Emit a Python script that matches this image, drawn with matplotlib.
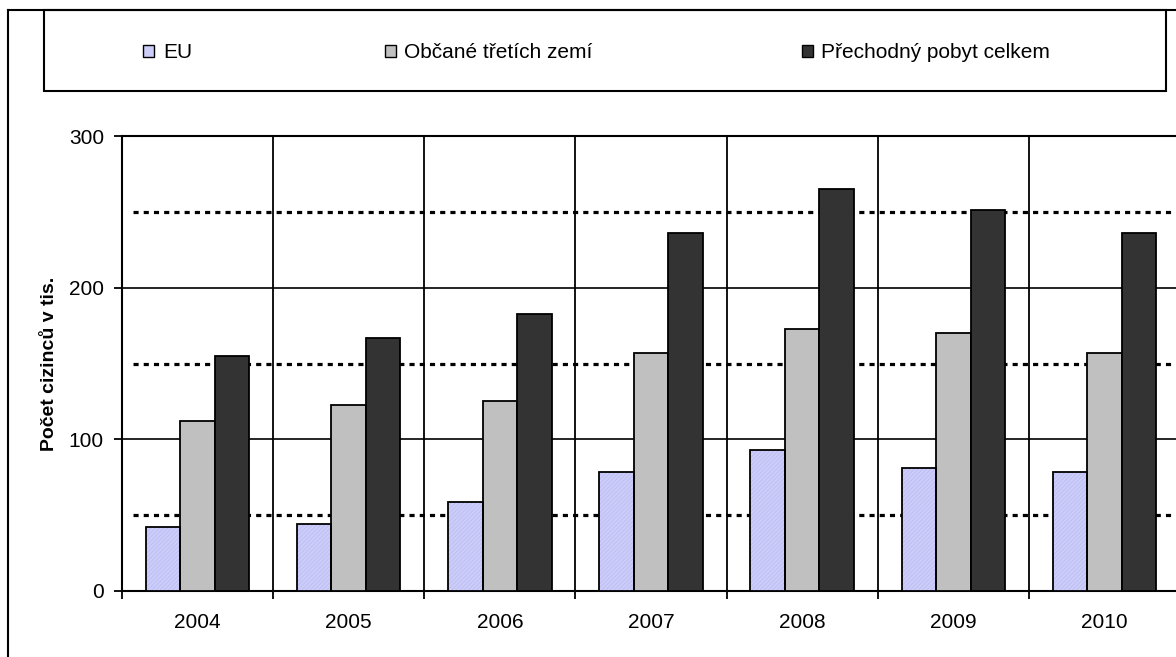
import matplotlib
matplotlib.use("Agg")
import matplotlib.pyplot as plt
import numpy as np
from matplotlib.patches import Rectangle
from matplotlib.lines import Line2D

# data (thousands of foreigners)
years = ["2004", "2005", "2006", "2007", "2008", "2009", "2010"]
eu = [42.3, 44.5, 58.5, 78.3, 92.9, 81.2, 78.3]
tretich_zemi = [112, 122.8, 125.1, 157.1, 172.8, 170, 156.6]
celkem = [154.8, 167, 182.7, 235.9, 265, 251.5, 235.8]
series_names = ["EU", "Občané třetích zemí", "Přechodný pobyt celkem"]
yticks = [0, 100, 200, 300]
dotted_levels = [50, 150, 250]

plt.rcParams['font.family'] = ['Liberation Sans', 'DejaVu Sans']
plt.rcParams['hatch.linewidth'] = 0.6

W, H = 1176, 657
fig = plt.figure(figsize=(W / 100, H / 100), dpi=100)

def fx(x):
    return x / W

def fy(y):
    return 1 - y / H

# axes box in pixels: left 122, top 136, bottom 591, right off the page
ax = fig.add_axes([fx(122), fy(591), fx(1180) - fx(122), fy(136) - fy(591)])

x = np.arange(len(years))
bw = 0.228
colors = ["#cdcdfa", "#c0c0c0", "#333333"]

# background grid
for lvl in dotted_levels:
    ax.axhline(lvl, xmin=0.01, color="black", lw=2.3, ls=(0, (1.6, 1.6)), zorder=1)
for lvl in yticks[1:]:
    ax.axhline(lvl, color="black", lw=1.2, zorder=1)

# EU bars: fine hatch layer + outline
ax.bar(x - bw, eu, bw, color=colors[0], edgecolor="#bcbcf2", hatch="////////",
       linewidth=0, zorder=3)
ax.bar(x - bw, eu, bw, fill=False, edgecolor="black", linewidth=1.3, zorder=4)
ax.bar(x, tretich_zemi, bw, color=colors[1], edgecolor="black", linewidth=1.3, zorder=3)
ax.bar(x + bw, celkem, bw, color=colors[2], edgecolor="black", linewidth=1.3, zorder=3)

ax.set_xlim(-0.5, len(years) - 0.5)
ax.set_ylim(0, 300)

# category borders as major ticks + vertical grid, labels as minor ticks
ax.set_xticks(np.arange(len(years) + 1) - 0.5)
ax.set_xticklabels([])
ax.set_xticks(x, minor=True)
ax.set_xticklabels(years, minor=True, fontsize=15)
ax.tick_params(axis="x", which="major", direction="out", length=6, width=1.3)
ax.tick_params(axis="x", which="minor", length=0, pad=16)
ax.xaxis.grid(True, which="major", color="black", lw=1.3, zorder=1)

ax.set_yticks(yticks)
ax.set_yticklabels([str(v) for v in yticks], fontsize=15)
ax.tick_params(axis="y", direction="out", length=6, width=1.3, pad=7)
ax.set_axisbelow(True)

for s in ["left", "bottom", "top"]:
    ax.spines[s].set_linewidth(1.5)
ax.spines["right"].set_visible(False)

ax.set_ylabel("Počet cizinců v tis.", fontsize=14, fontweight="bold", labelpad=8)

# outer chart frame
fig.add_artist(Line2D([fx(8), fx(8)], [fy(10), 0], color="black", lw=1.5,
                      transform=fig.transFigure))
fig.add_artist(Line2D([fx(8), 1], [fy(10), fy(10)], color="black", lw=1.5,
                      transform=fig.transFigure))

# legend box
fig.add_artist(Rectangle((fx(44), fy(91)), fx(1166) - fx(44), fy(10) - fy(91),
                         fill=False, edgecolor="black", lw=1.5,
                         transform=fig.transFigure))
marker_x = [143, 385, 802]
text_x = [163, 404, 821]
for mx, tx, name, col in zip(marker_x, text_x, series_names, colors):
    fig.add_artist(Rectangle((fx(mx), fy(57)), fx(11), fy(45) - fy(57),
                             facecolor=col, edgecolor="black", lw=1.0,
                             transform=fig.transFigure))
    fig.text(fx(tx), fy(53), name, fontsize=15, va="center", ha="left")

fig.savefig("out.png", dpi=100)
